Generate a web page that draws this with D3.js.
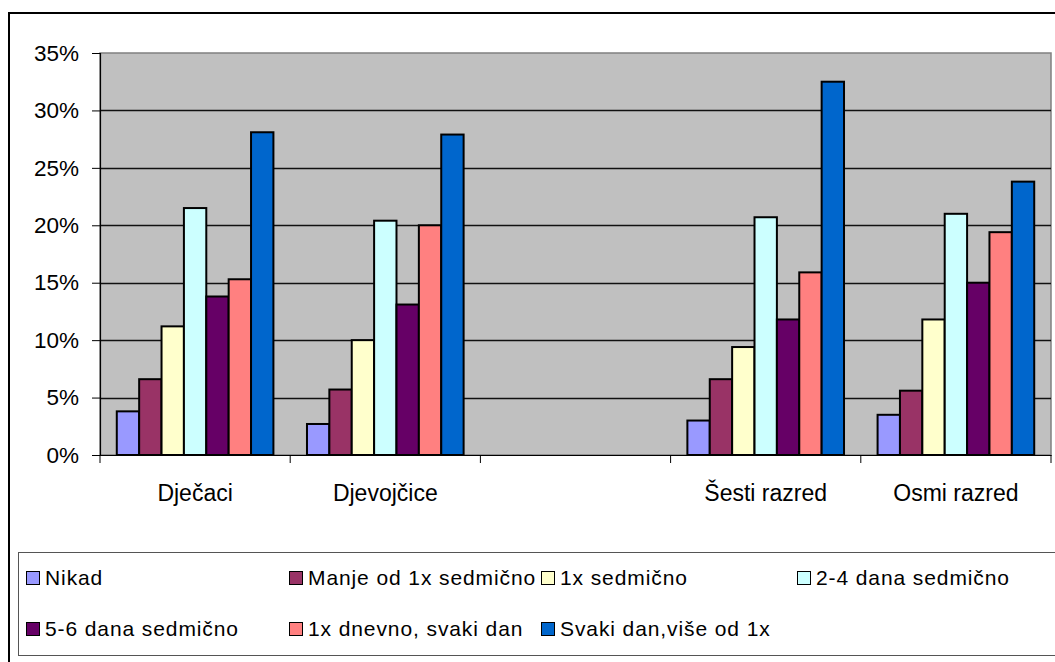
<!DOCTYPE html>
<html>
<head>
<meta charset="utf-8">
<script src="https://cdn.jsdelivr.net/npm/d3@7"></script>
<style>
  body { margin: 0; background: #fff; }
  svg { display: block; font-family: "Liberation Sans", Arial, sans-serif; }
</style>
</head>
<body>
<div id="container"></div>
<script>
/* DATA (percent) */
const categories = ["Dječaci", "Djevojčice", "", "Šesti razred", "Osmi razred"];
const seriesNames = ["Nikad", "Manje od 1x sedmično", "1x sedmično", "2-4 dana sedmično",
  "5-6 dana sedmično", "1x dnevno, svaki dan", "Svaki dan,više od 1x"];
const nikad     = [3.8, 2.7, null, 3.0, 3.5];
const manje     = [6.6, 5.7, null, 6.6, 5.6];
const jednom    = [11.2, 10.0, null, 9.4, 11.8];
const dvaCetiri = [21.5, 20.4, null, 20.7, 21.0];
const petSest   = [13.8, 13.1, null, 11.8, 15.0];
const dnevno    = [15.3, 20.0, null, 15.9, 19.4];
const svaki     = [28.1, 27.9, null, 32.5, 23.8];
const yTicks = [0, 5, 10, 15, 20, 25, 30, 35];

const seriesValues = [nikad, manje, jednom, dvaCetiri, petSest, dnevno, svaki];
const colors = ["#9999FF", "#993366", "#FFFFCC", "#CCFFFF", "#660066", "#FF8080", "#0066CC"];

/* CONSTANTS */
const width = 1055, height = 662;
const plot = { left: 100, right: 1051, top: 53, bottom: 455 };

const svg = d3.select("#container").append("svg")
  .attr("width", width)
  .attr("height", height);

/* outer chart frame (runs off the picture right and bottom) */
svg.append("rect")
  .attr("x", 9).attr("y", 13)
  .attr("width", 1100).attr("height", 700)
  .attr("fill", "#fff")
  .attr("stroke", "#000").attr("stroke-width", 2);

/* SCALES */
const x0 = d3.scaleBand()
  .domain(categories)
  .range([plot.left, plot.right])
  .padding(0);

const x1 = d3.scaleBand()
  .domain(seriesNames)
  .range([0, x0.bandwidth()])
  .paddingInner(0)
  .paddingOuter(0.75);

const y = d3.scaleLinear()
  .domain([0, 35])
  .range([plot.bottom, plot.top]);

const color = d3.scaleOrdinal().domain(seriesNames).range(colors);

/* plot area */
svg.append("rect")
  .attr("x", plot.left).attr("y", plot.top)
  .attr("width", plot.right - plot.left).attr("height", plot.bottom - plot.top)
  .attr("fill", "#C0C0C0")
  .attr("stroke", "#808080").attr("stroke-width", 1.5);

/* gridlines */
svg.append("g")
  .selectAll("line")
  .data(yTicks.slice(1, -1))
  .join("line")
  .attr("x1", plot.left).attr("x2", plot.right)
  .attr("y1", d => Math.round(y(d)) + 0.5).attr("y2", d => Math.round(y(d)) + 0.5)
  .attr("stroke", "#111").attr("stroke-width", 1.3);

/* bars */
const rows = [];
categories.forEach((c, i) => {
  seriesNames.forEach((s, j) => {
    const v = seriesValues[j][i];
    if (v != null) rows.push({ cat: c, series: s, value: v });
  });
});

svg.append("g")
  .selectAll("rect")
  .data(rows)
  .join("rect")
  .attr("x", d => x0(d.cat) + x1(d.series))
  .attr("y", d => y(d.value))
  .attr("width", x1.bandwidth())
  .attr("height", d => y(0) - y(d.value))
  .attr("fill", d => color(d.series))
  .attr("stroke", "#000")
  .attr("stroke-width", 2);

/* y axis */
const yAxis = d3.axisLeft(y)
  .tickValues(yTicks)
  .tickFormat(d => d + "%")
  .tickSize(8)
  .tickPadding(13);

const gy = svg.append("g")
  .attr("transform", `translate(${plot.left},0)`)
  .call(yAxis);
gy.select(".domain").attr("stroke", "#000").attr("stroke-width", 1.2);
gy.selectAll(".tick line").attr("stroke", "#000");
gy.selectAll(".tick text")
  .attr("font-size", 22.5)
  .attr("font-family", "Liberation Sans, Arial, sans-serif")
  .attr("fill", "#000");

/* x axis: ticks between categories */
const xAxis = d3.axisBottom(x0)
  .tickSize(0)
  .tickPadding(30)
  .tickSizeOuter(0);
const gx = svg.append("g")
  .attr("transform", `translate(0,${plot.bottom})`)
  .call(xAxis);
gx.select(".domain").attr("stroke", "#000").attr("stroke-width", 1.2);
gx.selectAll(".tick text")
  .attr("font-size", 23)
  .attr("font-family", "Liberation Sans, Arial, sans-serif")
  .attr("fill", "#000");

const boundaries = categories.map(c => x0(c)).concat([x0.range()[1]]);
gx.selectAll(".sep")
  .data(boundaries)
  .join("line")
  .attr("class", "sep")
  .attr("x1", d => d).attr("x2", d => d)
  .attr("y1", 0).attr("y2", 8)
  .attr("stroke", "#000");

/* LEGEND */
svg.append("rect")
  .attr("x", 18.5).attr("y", 552.5)
  .attr("width", 1100).attr("height", 103)
  .attr("fill", "#fff")
  .attr("stroke", "#555").attr("stroke-width", 1);

const legendX = [26, 289, 541, 797, 26, 289, 541];
const legendY = [578, 578, 578, 578, 629, 629, 629];

const legend = svg.append("g")
  .selectAll("g")
  .data(seriesNames)
  .join("g")
  .attr("transform", (d, i) => `translate(${legendX[i]},${legendY[i]})`);

legend.append("rect")
  .attr("x", 0.5).attr("y", -6.5)
  .attr("width", 13).attr("height", 13)
  .attr("fill", d => color(d))
  .attr("stroke", "#000").attr("stroke-width", 1);

legend.append("text")
  .attr("x", 19).attr("y", 7)
  .attr("font-size", 21)
  .attr("letter-spacing", 0.9)
  .attr("fill", "#000")
  .text(d => d);
</script>
</body>
</html>
